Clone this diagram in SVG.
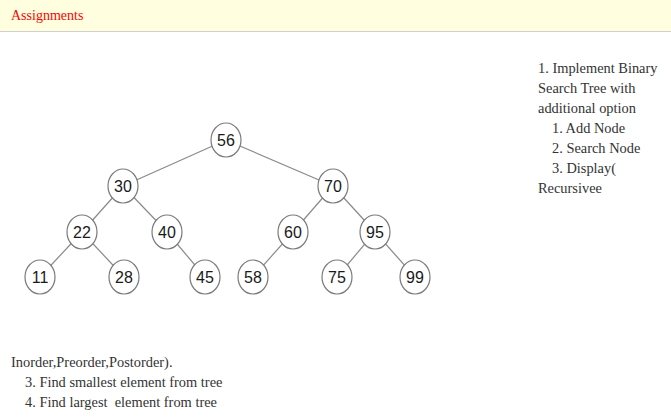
<svg xmlns="http://www.w3.org/2000/svg" width="671" height="418" viewBox="0 0 671 418">
<style>
.t{font-family:"Liberation Serif",serif;font-size:14.4px;fill:#333333}
.n ellipse{fill:#ffffff;stroke:#7a7a7a;stroke-width:1.2}
.n text{font-family:"Liberation Sans",Arial,sans-serif;font-size:16px;fill:#1a1a1a;text-anchor:middle}
#edges line{stroke:#8a8a8a;stroke-width:1.2}
</style>
<rect x="0" y="0" width="671" height="418" fill="#ffffff"/>
<rect x="0" y="0" width="671" height="31" fill="#ffffe0"/>
<line x1="0" y1="31.5" x2="671" y2="31.5" stroke="#d0d0d0" stroke-width="1"/>
<text x="11" y="20" style="font-family:'Liberation Serif',serif;font-size:14px;fill:#ff0000">Assignments</text>
<g id="edges">
<line x1="226" y1="140" x2="123" y2="186"/>
<line x1="226" y1="140" x2="333" y2="186"/>
<line x1="123" y1="186" x2="82" y2="232"/>
<line x1="123" y1="186" x2="167" y2="232"/>
<line x1="82" y1="232" x2="40" y2="277"/>
<line x1="82" y1="232" x2="124" y2="277"/>
<line x1="167" y1="232" x2="205" y2="277"/>
<line x1="333" y1="186" x2="293" y2="232"/>
<line x1="333" y1="186" x2="375" y2="232"/>
<line x1="293" y1="232" x2="253" y2="277"/>
<line x1="375" y1="232" x2="337" y2="277"/>
<line x1="375" y1="232" x2="415" y2="277"/>
</g>
<g id="n56" class="n"><ellipse cx="226" cy="140" rx="15" ry="17"/><text x="226" y="145.5">56</text></g>
<g id="n30" class="n"><ellipse cx="123" cy="186" rx="15" ry="17"/><text x="123" y="191.5">30</text></g>
<g id="n70" class="n"><ellipse cx="333" cy="186" rx="15" ry="17"/><text x="333" y="191.5">70</text></g>
<g id="n22" class="n"><ellipse cx="82" cy="232" rx="15" ry="17"/><text x="82" y="237.5">22</text></g>
<g id="n40" class="n"><ellipse cx="167" cy="232" rx="15" ry="17"/><text x="167" y="237.5">40</text></g>
<g id="n60" class="n"><ellipse cx="293" cy="232" rx="15" ry="17"/><text x="293" y="237.5">60</text></g>
<g id="n95" class="n"><ellipse cx="375" cy="232" rx="15" ry="17"/><text x="375" y="237.5">95</text></g>
<g id="n11" class="n"><ellipse cx="40" cy="277" rx="15" ry="17"/><text x="40" y="282.5">11</text></g>
<g id="n28" class="n"><ellipse cx="124" cy="277" rx="15" ry="17"/><text x="124" y="282.5">28</text></g>
<g id="n45" class="n"><ellipse cx="205" cy="277" rx="15" ry="17"/><text x="205" y="282.5">45</text></g>
<g id="n58" class="n"><ellipse cx="253" cy="277" rx="15" ry="17"/><text x="253" y="282.5">58</text></g>
<g id="n75" class="n"><ellipse cx="337" cy="277" rx="15" ry="17"/><text x="337" y="282.5">75</text></g>
<g id="n99" class="n"><ellipse cx="415" cy="277" rx="15" ry="17"/><text x="415" y="282.5">99</text></g>
<g id="notes-right">
<text class="t" x="538" y="73">1. Implement Binary</text>
<text class="t" x="538" y="93">Search Tree with</text>
<text class="t" x="538" y="113">additional option</text>
<text class="t" x="552" y="133">1. Add Node</text>
<text class="t" x="552" y="153">2. Search Node</text>
<text class="t" x="552" y="173">3. Display(</text>
<text class="t" x="538" y="193">Recursivee</text>
</g>
<g id="notes-bottom">
<text class="t" x="11" y="367">Inorder,Preorder,Postorder).</text>
<text class="t" x="25" y="387">3. Find smallest element from tree</text>
<text class="t" x="25" y="407" xml:space="preserve">4. Find largest  element from tree</text>
</g>
</svg>
